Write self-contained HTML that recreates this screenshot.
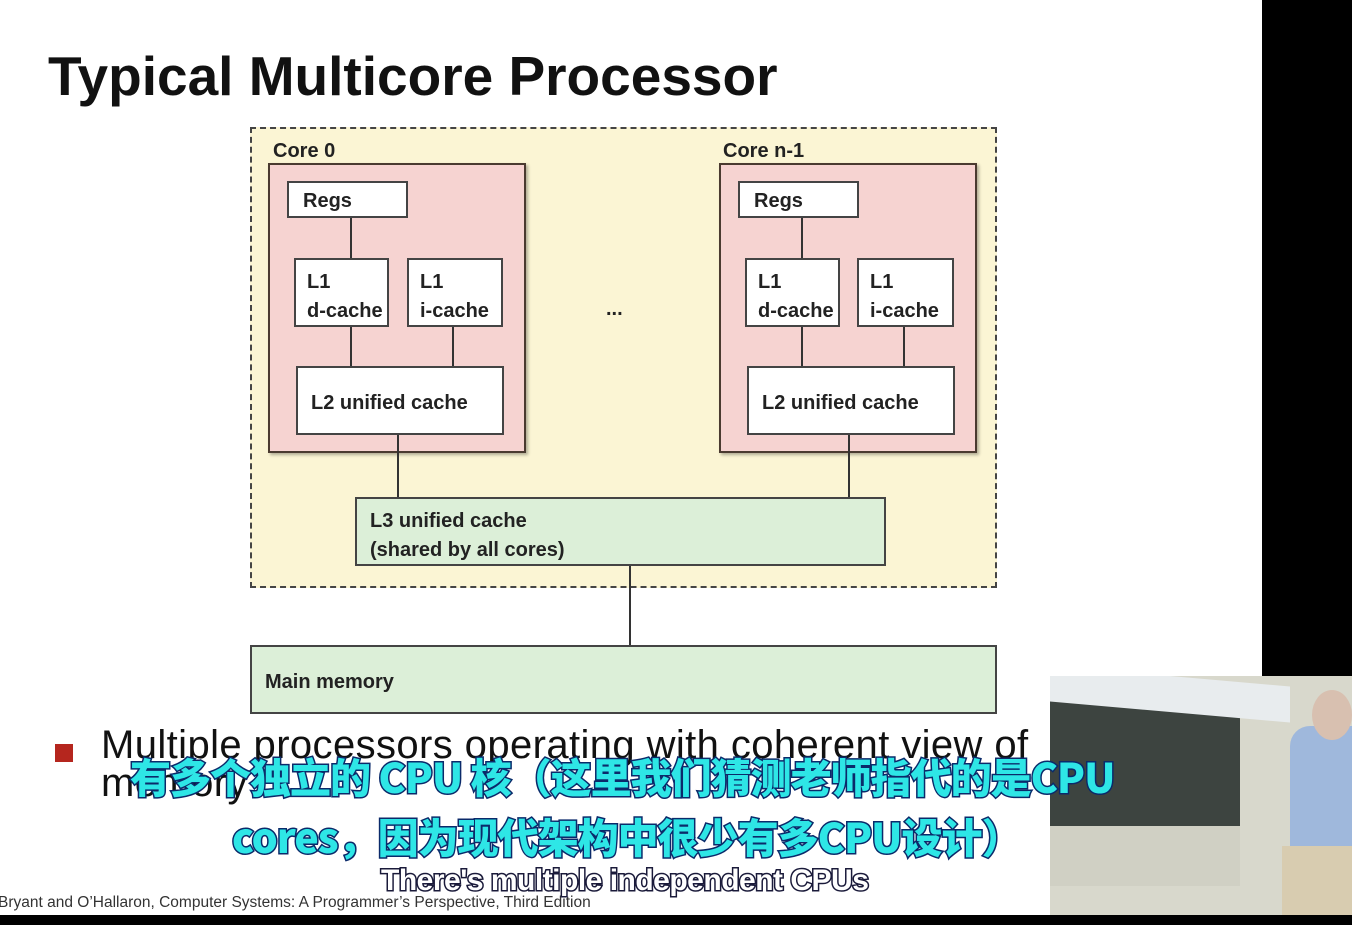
<!DOCTYPE html>
<html><head><meta charset="utf-8"><style>
body{margin:0;width:1352px;height:925px;background:#fff;position:relative;overflow:hidden;font-family:"Liberation Sans","Noto Sans CJK SC",sans-serif;}
.a{position:absolute;box-sizing:border-box;}
.b{background:#fff;border:2px solid #444;font-size:20px;font-weight:bold;color:#222;}
.core{background:#f6d3d1;border:2px solid #4a3a30;box-shadow:2px 2px 3px rgba(0,0,0,.3);}
.ln{position:absolute;background:#333;}
.lab{position:absolute;font-size:20px;font-weight:bold;color:#222;}
.sub{position:absolute;font-family:"Noto Sans CJK SC",sans-serif;font-weight:900;color:#2ee6e6;-webkit-text-stroke:3px #0b2a6a;paint-order:stroke fill;white-space:nowrap;}
</style></head><body>
<div class="a" style="left:48px;top:44px;font-size:55px;font-weight:bold;color:#111;white-space:nowrap;">Typical Multicore Processor</div>
<div class="a" style="left:250px;top:127px;width:747px;height:461px;background:#fbf5d4;border:2px dashed #444;"></div>

<!-- core 0 -->
<div class="lab" style="left:273px;top:140px;">Core 0</div>
<div class="a core" style="left:268px;top:163px;width:258px;height:290px;"></div>
<div class="ln" style="left:350px;top:217px;width:2px;height:42px"></div>
<div class="ln" style="left:350px;top:326px;width:2px;height:41px"></div>
<div class="ln" style="left:452px;top:326px;width:2px;height:41px"></div>
<div class="ln" style="left:397px;top:434px;width:2px;height:64px"></div>
<div class="a b" style="left:287px;top:181px;width:121px;height:37px;padding:7px 0 0 14px;">Regs</div>
<div class="a b" style="left:294px;top:258px;width:95px;height:69px;padding:8px 0 0 11px;line-height:29px;">L1<br>d-cache</div>
<div class="a b" style="left:407px;top:258px;width:96px;height:69px;padding:8px 0 0 11px;line-height:29px;">L1<br>i-cache</div>
<div class="a b" style="left:296px;top:366px;width:208px;height:69px;padding:24px 0 0 13px;">L2 unified cache</div>

<!-- core n-1 -->
<div class="lab" style="left:723px;top:140px;">Core n-1</div>
<div class="a core" style="left:719px;top:163px;width:258px;height:290px;"></div>
<div class="ln" style="left:801px;top:217px;width:2px;height:42px"></div>
<div class="ln" style="left:801px;top:326px;width:2px;height:41px"></div>
<div class="ln" style="left:903px;top:326px;width:2px;height:41px"></div>
<div class="ln" style="left:848px;top:434px;width:2px;height:64px"></div>
<div class="a b" style="left:738px;top:181px;width:121px;height:37px;padding:7px 0 0 14px;">Regs</div>
<div class="a b" style="left:745px;top:258px;width:95px;height:69px;padding:8px 0 0 11px;line-height:29px;">L1<br>d-cache</div>
<div class="a b" style="left:857px;top:258px;width:97px;height:69px;padding:8px 0 0 11px;line-height:29px;">L1<br>i-cache</div>
<div class="a b" style="left:747px;top:366px;width:208px;height:69px;padding:24px 0 0 13px;">L2 unified cache</div>

<div class="lab" style="left:606px;top:298px;">...</div>

<div class="a b" style="left:355px;top:497px;width:531px;height:69px;background:#dcefd8;padding:8px 0 0 13px;line-height:29px;">L3 unified cache<br>(shared by all cores)</div>
<div class="ln" style="left:629px;top:566px;width:2px;height:80px"></div>
<div class="a b" style="left:250px;top:645px;width:747px;height:69px;background:#dcefd8;padding:24px 0 0 13px;">Main memory</div>

<div class="a" style="left:55px;top:744px;width:18px;height:18px;background:#b5261e;"></div>
<div class="a" style="left:101px;top:726px;font-size:40px;color:#111;line-height:38px;white-space:nowrap;letter-spacing:0.4px;">Multiple processors operating with coherent view of<br>memory</div>
<div class="a" style="left:-2px;top:894px;font-size:15.5px;color:#333;white-space:nowrap;">Bryant and O’Hallaron, Computer Systems: A Programmer’s Perspective, Third Edition</div>

<!-- right black + video -->
<div class="a" style="left:1262px;top:0;width:90px;height:677px;background:#000;"></div>
<div class="a" style="left:1050px;top:676px;width:302px;height:240px;background:#d8d8cc;overflow:hidden;">
 <div class="a" style="left:0;top:8px;width:190px;height:200px;background:#3d4440;"></div>
 <div class="a" style="left:0;top:150px;width:190px;height:60px;background:#d0d0c4;"></div>
 <div class="a" style="left:0;top:0;width:240px;height:36px;background:#e8ecee;transform:skewY(5deg);"></div>
 <div class="a" style="left:240px;top:50px;width:62px;height:190px;background:#9fb8dc;border-radius:20px 0 0 0;"></div>
 <div class="a" style="left:262px;top:14px;width:40px;height:50px;background:#d8c0b0;border-radius:50%;"></div>
 <div class="a" style="left:232px;top:170px;width:70px;height:70px;background:#d8ccb0;"></div>
</div>
<div class="a" style="left:0;top:915px;width:1352px;height:10px;background:#000;"></div>

<div class="sub" style="left:130px;top:745px;font-size:41px;letter-spacing:-1px;">有多个独立的 CPU 核（这里我们猜测老师指代的是CPU</div>
<div class="sub" style="left:232px;top:805px;font-size:41px;letter-spacing:-1px;">cores，因为现代架构中很少有多CPU设计）</div>
<div class="sub" style="left:381px;top:864px;font-size:30px;color:#fff;-webkit-text-stroke:3px #1a1a3a;font-family:'Liberation Sans',sans-serif;letter-spacing:-0.5px;">There's multiple independent CPUs</div>
</body></html>
